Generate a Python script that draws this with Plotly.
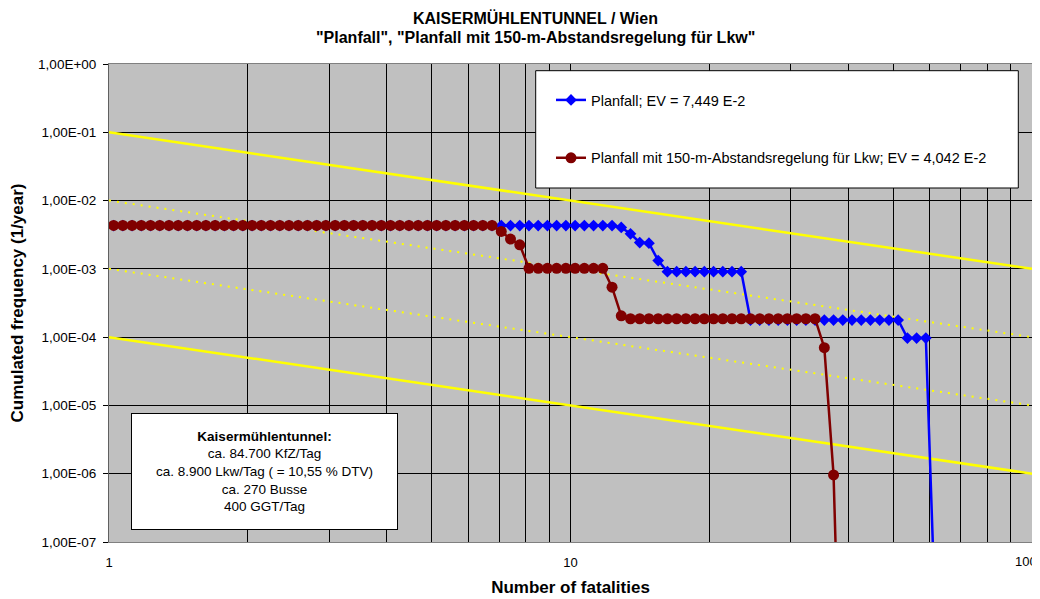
import plotly.graph_objects as go

# ---------------- data ----------------
fatalities = [
    1.0233, 1.0715, 1.1220, 1.1749, 1.2303, 1.2882, 1.3490, 1.4125, 1.4791, 1.5488,
    1.6218, 1.6982, 1.7783, 1.8621, 1.9498, 2.0417, 2.1380, 2.2387, 2.3442, 2.4547,
    2.5704, 2.6915, 2.8184, 2.9512, 3.0903, 3.2359, 3.3884, 3.5481, 3.7154, 3.8905,
    4.0738, 4.2658, 4.4668, 4.6774, 4.8978, 5.1286, 5.3703, 5.6234, 5.8884, 6.1660,
    6.4565, 6.7608, 7.0795, 7.4131, 7.7625, 8.1283, 8.5114, 8.9125, 9.3325, 9.7724,
    10.233, 10.715, 11.220, 11.749, 12.303, 12.882, 13.490, 14.125, 14.791, 15.488,
    16.218, 16.982, 17.783, 18.621, 19.498, 20.417, 21.380, 22.387, 23.442, 24.547,
    25.704, 26.915, 28.184, 29.512, 30.903, 32.359, 33.884, 35.481, 37.154, 38.905,
    40.738, 42.658, 44.668, 46.774, 48.978, 51.286, 53.703, 56.234, 58.884, 61.660,
]

planfall = [
    4.30e-3, 4.30e-3, 4.30e-3, 4.30e-3, 4.30e-3, 4.30e-3, 4.30e-3, 4.30e-3, 4.30e-3, 4.30e-3,
    4.30e-3, 4.30e-3, 4.30e-3, 4.30e-3, 4.30e-3, 4.30e-3, 4.30e-3, 4.30e-3, 4.30e-3, 4.30e-3,
    4.30e-3, 4.30e-3, 4.30e-3, 4.30e-3, 4.30e-3, 4.30e-3, 4.30e-3, 4.30e-3, 4.30e-3, 4.30e-3,
    4.30e-3, 4.30e-3, 4.30e-3, 4.30e-3, 4.30e-3, 4.30e-3, 4.30e-3, 4.30e-3, 4.30e-3, 4.30e-3,
    4.30e-3, 4.30e-3, 4.30e-3, 4.30e-3, 4.30e-3, 4.30e-3, 4.30e-3, 4.30e-3, 4.30e-3, 4.30e-3,
    4.30e-3, 4.30e-3, 4.30e-3, 4.30e-3, 4.30e-3, 4.04e-3, 3.26e-3, 2.43e-3, 2.38e-3, 1.32e-3,
    9.1e-4, 9.1e-4, 9.1e-4, 9.1e-4, 9.1e-4, 9.1e-4, 9.1e-4, 9.1e-4, 9.1e-4, 1.78e-4,
    1.78e-4, 1.78e-4, 1.78e-4, 1.78e-4, 1.78e-4, 1.78e-4, 1.78e-4, 1.78e-4, 1.78e-4, 1.78e-4,
    1.78e-4, 1.78e-4, 1.78e-4, 1.78e-4, 1.78e-4, 1.78e-4, 9.7e-5, 9.7e-5, 9.7e-5, 1.0e-8,
]

abstand = [
    4.32e-3, 4.32e-3, 4.32e-3, 4.32e-3, 4.32e-3, 4.32e-3, 4.32e-3, 4.32e-3, 4.32e-3, 4.32e-3,
    4.32e-3, 4.32e-3, 4.32e-3, 4.32e-3, 4.32e-3, 4.32e-3, 4.32e-3, 4.32e-3, 4.32e-3, 4.32e-3,
    4.32e-3, 4.32e-3, 4.32e-3, 4.32e-3, 4.32e-3, 4.32e-3, 4.32e-3, 4.32e-3, 4.32e-3, 4.32e-3,
    4.32e-3, 4.32e-3, 4.32e-3, 4.32e-3, 4.32e-3, 4.32e-3, 4.32e-3, 4.32e-3, 4.32e-3, 4.32e-3,
    4.32e-3, 4.32e-3, 3.53e-3, 2.73e-3, 2.25e-3, 1.02e-3, 1.02e-3, 1.02e-3, 1.02e-3, 1.02e-3,
    1.02e-3, 1.02e-3, 1.02e-3, 1.02e-3, 5.4e-4, 2.05e-4, 1.86e-4, 1.86e-4, 1.86e-4, 1.86e-4,
    1.86e-4, 1.86e-4, 1.86e-4, 1.86e-4, 1.86e-4, 1.86e-4, 1.86e-4, 1.86e-4, 1.86e-4, 1.86e-4,
    1.86e-4, 1.86e-4, 1.86e-4, 1.86e-4, 1.86e-4, 1.86e-4, 1.86e-4, 7.0e-5, 9.6e-7, 2.0e-11,
]

# acceptability limit lines (F-N criteria)
limit_x = [1, 100]
limit_upper = [1e-1, 1e-3]
limit_upper_mid = [1e-2, 1e-4]
limit_lower_mid = [1e-3, 1e-5]
limit_lower = [1e-4, 1e-6]

x_tickvals = [1, 2, 3, 4, 5, 6, 7, 8, 9, 10, 20, 30, 40, 50, 60, 70, 80, 90, 100]
x_ticktext = ["1", "", "", "", "", "", "", "", "", "10",
              "", "", "", "", "", "", "", "", ""]
x_last_label = "100"
y_tickvals = [1e0, 1e-1, 1e-2, 1e-3, 1e-4, 1e-5, 1e-6, 1e-7]
y_ticktext = ["1,00E+00", "1,00E-01", "1,00E-02", "1,00E-03",
              "1,00E-04", "1,00E-05", "1,00E-06", "1,00E-07"]

name_plan = "Planfall; EV = 7,449 E-2"
name_abst = "Planfall mit 150-m-Abstandsregelung für Lkw; EV = 4,042 E-2"
title_1 = "KAISERMÜHLENTUNNEL / Wien"
title_2 = "\"Planfall\", \"Planfall mit 150-m-Abstandsregelung für Lkw\""
info_lines = ["<b>Kaisermühlentunnel:</b>", "ca. 84.700 KfZ/Tag",
              "ca. 8.900 Lkw/Tag ( = 10,55 % DTV)", "ca. 270 Busse", "400 GGT/Tag"]

FONT = "Arial, 'Liberation Sans', Helvetica, sans-serif"

fig = go.Figure()

# yellow criteria lines
for ys, dash in [(limit_upper, "solid"), (limit_upper_mid, "2px,6px"),
                 (limit_lower_mid, "2px,6px"), (limit_lower, "solid")]:
    fig.add_trace(go.Scatter(
        x=limit_x, y=ys, mode="lines", showlegend=False, hoverinfo="skip",
        line=dict(color="#FFFF00", width=2.5 if dash == "solid" else 2, dash=dash),
    ))

fig.add_trace(go.Scatter(
    x=fatalities, y=planfall, mode="lines+markers", name=name_plan,
    legendgroup="a",
    line=dict(color="#0000FF", width=2.5),
    marker=dict(symbol="diamond", size=9, color="#0000FF"),
))
fig.add_trace(go.Scatter(
    x=fatalities[:len(abstand)], y=abstand, mode="lines+markers", name=name_abst,
    legendgroup="b",
    line=dict(color="#800000", width=2.5),
    marker=dict(symbol="circle", size=11, color="#800000"),
))

# The page body adds an 8 px offset; the figure is sized so it fills the window.
OFF = 8
W, H = 1040 - OFF, 599 - OFF
L, R, T, B = 109 - OFF, 8, 64 - OFF, 57
pw, ph = W - L - R, H - T - B


def px_x(p):
    return (p - OFF - L) / pw


def px_y(p):
    return 1 - (p - OFF - T) / ph


fig.update_layout(
    width=W, height=H,
    margin=dict(l=L, r=R, t=T, b=B, autoexpand=False),
    paper_bgcolor="white",
    plot_bgcolor="#C0C0C0",
    font=dict(family=FONT, color="black", size=13),
    showlegend=True,
    legend=dict(
        x=px_x(551), y=px_y(84), xanchor="left", yanchor="top",
        bgcolor="rgba(0,0,0,0)", borderwidth=0,
        font=dict(family=FONT, size=14.5, color="black"),
        traceorder="grouped", tracegroupgap=36, itemwidth=30,
    ),
    xaxis=dict(
        type="log", range=[0, 2],
        tickvals=x_tickvals, ticktext=x_ticktext,
        showgrid=True, gridcolor="black", gridwidth=1,
        showline=True, linecolor="#808080", linewidth=1, mirror=True,
        ticks="", ticklabelstandoff=8,
        tickfont=dict(family=FONT, size=13),
        zeroline=False,
        title=dict(text="<b>Number of fatalities</b>",
                   font=dict(family=FONT, size=17), standoff=12),
    ),
    yaxis=dict(
        type="log", range=[-7, 0],
        tickvals=y_tickvals, ticktext=y_ticktext,
        showgrid=True, gridcolor="black", gridwidth=1,
        showline=True, linecolor="#606060", linewidth=1, mirror=True,
        ticks="outside", ticklen=5, tickcolor="black", ticklabelstandoff=4,
        tickfont=dict(family=FONT, size=13.5),
        zeroline=False,
        title=dict(text="<b>Cumulated frequency (1/year)</b>",
                   font=dict(family=FONT, size=17), standoff=10),
    ),
    shapes=[
        dict(type="rect", xref="paper", yref="paper", layer="above",
             x0=px_x(535.7), x1=px_x(1018.3), y0=px_y(188), y1=px_y(70.7),
             fillcolor="white", line=dict(color="black", width=1)),
    ],
    annotations=[
        dict(text="<b>" + title_1 + "</b>", xref="paper", yref="paper",
             x=px_x(535), y=px_y(18), xanchor="center", yanchor="middle",
             showarrow=False, font=dict(family=FONT, size=16)),
        dict(text="<b>" + title_2 + "</b>", xref="paper", yref="paper",
             x=px_x(535), y=px_y(38), xanchor="center", yanchor="middle",
             showarrow=False, font=dict(family=FONT, size=16)),
        dict(text="<br>".join(info_lines), xref="paper", yref="paper",
             x=px_x(130.7), y=px_y(413.3), xanchor="left", yanchor="top",
             width=263, height=113, align="center", valign="middle",
             bgcolor="white", bordercolor="black", borderwidth=1, borderpad=1,
             showarrow=False, font=dict(family=FONT, size=13.5)),
        # last x tick label, kept inside the page edge
        dict(text=x_last_label, xref="paper", yref="paper",
             x=px_x(1039), y=px_y(561.5), xanchor="right", yanchor="middle",
             showarrow=False, font=dict(family=FONT, size=13)),
    ],
)

fig.write_html("out.html")
